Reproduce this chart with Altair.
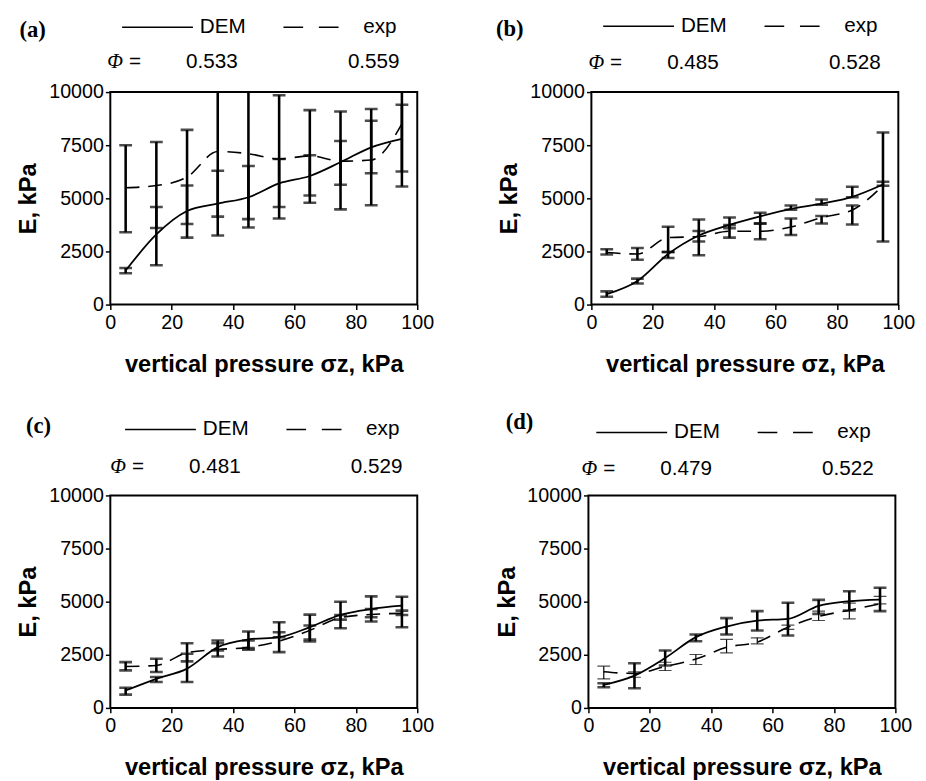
import altair as alt
import pandas as pd

# ---------------- data ----------------
x_vals = [5, 15, 25, 35, 45, 55, 65, 75, 85, 95]
x_ticks = [0, 20, 40, 60, 80, 100]
y_ticks = [0, 2500, 5000, 7500, 10000]
panel_labels = ["(a)", "(b)", "(c)", "(d)"]
phi_dem = ["0.533", "0.485", "0.481", "0.479"]
phi_exp = ["0.559", "0.528", "0.529", "0.522"]
legend_names = ["DEM", "exp"]
phi_symbol = "Φ"
phi_eq = "="
x_title = "vertical pressure σz, kPa"
y_title = "E, kPa"

# panel (a)
dem_a = [1600, 3300, 4400, 4750, 5050, 5700, 6050, 6700, 7400, 7800]
exp_a = [5500, 5600, 6000, 7200, 7100, 6850, 7000, 6750, 6800, 8500]
dem_lo_a = [1470, 3600, 3790, 4140, 4020, 4590, 5130, 5640, 6180, 6260]
dem_hi_a = [1720, 4590, 5600, 6300, 6520, 6850, 7030, 7700, 8650, 9400]
exp_lo_a = [3400, 1850, 3150, 3250, 3630, 4050, 4790, 4480, 4670, 5560]
exp_hi_a = [7500, 7650, 8220, 10500, 10500, 9850, 9150, 9090, 9200, 10500]

# panel (b)
dem_b = [490, 1110, 2380, 3250, 3750, 4150, 4500, 4750, 5070, 5650]
exp_b = [2450, 2380, 3150, 3200, 3450, 3450, 3650, 4100, 4450, 5600]
dem_lo_b = [370, 990, 2190, 2970, 3590, 3830, 4465, 4696, 5053, 5592]
dem_hi_b = [620, 1220, 2470, 4000, 4100, 4325, 4665, 4943, 5546, 5777]
exp_lo_b = [2360, 2110, 2470, 2320, 3150, 3073, 3274, 3815, 3770, 2967]
exp_hi_b = [2600, 2660, 3660, 3460, 3740, 3800, 4048, 4172, 4665, 8095]

# panel (c)
dem_c = [820, 1370, 1850, 2860, 3220, 3330, 3800, 4380, 4655, 4810]
exp_c = [1950, 2000, 2600, 2750, 2850, 3150, 3650, 4250, 4400, 4450]
dem_lo_c = [625, 1219, 1219, 2422, 2813, 2625, 3125, 3750, 4063, 4375]
dem_hi_c = [953, 1453, 2547, 3172, 3594, 4031, 4390, 5000, 5250, 5234]
exp_lo_c = [1766, 1688, 2190, 2703, 2734, 3328, 3219, 4156, 4266, 3797]
exp_hi_c = [2156, 2312, 3047, 3047, 3172, 3563, 3875, 4375, 4656, 4578]

# panel (d)
dem_d = [1080, 1520, 2350, 3330, 3830, 4110, 4190, 4800, 5020, 5100]
exp_d = [1700, 1620, 1950, 2300, 2850, 3100, 3800, 4300, 4600, 4900]
dem_lo_d = [975, 928, 1997, 3142, 3457, 3646, 3410, 4427, 4588, 4555]
dem_hi_d = [1160, 2104, 2704, 3457, 4225, 4555, 4946, 5086, 5495, 5652]
exp_lo_d = [1366, 1444, 1762, 2044, 2591, 3015, 3700, 4113, 4192, 4899]
exp_hi_d = [1964, 1700, 2150, 2515, 3222, 3297, 3900, 4553, 4930, 5247]

# ---------------- layout ----------------
W, H = 312, 216
FONT = "Liberation Sans"
SERIF = "Liberation Serif"


def one_row(val):
    return pd.DataFrame({"t": [val]})


def panel(i, dem, exp, dem_lo, dem_hi, exp_lo, exp_hi, exp_w, lay):
    df = pd.DataFrame({"x": x_vals, "dem": dem, "exp": exp,
                       "dem_lo": dem_lo, "dem_hi": dem_hi,
                       "exp_lo": exp_lo, "exp_hi": exp_hi})
    xs = alt.Scale(domain=[0, 100], nice=False, zero=False)
    ys = alt.Scale(domain=[0, 10000], nice=False)
    xaxis = alt.Axis(values=x_ticks, title=x_title, titlePadding=21,
                     labelFlush=False, labelPadding=3)
    yaxis = alt.Axis(values=y_ticks, title=y_title, titlePadding=8,
                     labelFlush=False, labelPadding=2, format="d")

    def X():
        return alt.X("x:Q", scale=xs, axis=xaxis)

    def Y(f):
        return alt.Y(f + ":Q", scale=ys, axis=yaxis)

    base = alt.Chart(df)
    layers = []

    def bars(lo, hi, w):
        out = [base.mark_rule(color="black", strokeWidth=w, clip=True)
               .encode(x=X(), y=Y(lo), y2=alt.Y2(hi + ":Q"))]
        for f in (lo, hi):
            out.append(base.mark_tick(color="black", orient="horizontal",
                                      size=13, thickness=w, clip=True)
                       .encode(x=X(), y=Y(f)))
        return out

    layers.append(base.mark_line(color="black", strokeWidth=1.8,
                                 interpolate="monotone")
                  .encode(x=X(), y=Y("dem")))
    layers.append(base.mark_line(color="black", strokeWidth=1.6,
                                 strokeDash=[14, 9], interpolate="monotone")
                  .encode(x=X(), y=Y("exp")))
    layers += bars("exp_lo", "exp_hi", exp_w)
    layers += bars("dem_lo", "dem_hi", 2.6)

    dx = lay["dx"]
    ly = lay["legend_y"]
    py = lay["phi_y"]
    # panel label
    layers.append(alt.Chart(one_row(panel_labels[i])).mark_text(
        font=SERIF, fontSize=23, fontWeight="bold", align="center",
        baseline="middle", color="black")
        .encode(text="t:N", x=alt.value(lay["label_x"]), y=alt.value(lay["label_y"])))
    # legend samples
    layers.append(alt.Chart(one_row(0)).mark_rule(color="black", strokeWidth=1.5)
                  .encode(x=alt.value(12 + dx), x2=alt.value(84 + dx), y=alt.value(ly)))
    layers.append(alt.Chart(one_row(0)).mark_rule(color="black", strokeWidth=1.5,
                                                   strokeDash=[20, 16])
                  .encode(x=alt.value(176 + dx), x2=alt.value(232 + dx), y=alt.value(ly)))
    layers.append(alt.Chart(one_row(legend_names[0])).mark_text(
        font=FONT, fontSize=21, align="left", baseline="middle", color="black")
        .encode(text="t:N", x=alt.value(91 + dx), y=alt.value(ly)))
    layers.append(alt.Chart(one_row(legend_names[1])).mark_text(
        font=FONT, fontSize=21, align="left", baseline="middle", color="black")
        .encode(text="t:N", x=alt.value(257 + dx), y=alt.value(ly)))
    # phi row
    layers.append(alt.Chart(one_row(phi_symbol)).mark_text(
        font=SERIF, fontSize=21, fontStyle="italic", align="left",
        baseline="middle", color="black")
        .encode(text="t:N", x=alt.value(-3 + dx), y=alt.value(py)))
    layers.append(alt.Chart(one_row(phi_eq)).mark_text(
        font=FONT, fontSize=21, align="left", baseline="middle", color="black")
        .encode(text="t:N", x=alt.value(19 + dx), y=alt.value(py)))
    layers.append(alt.Chart(one_row(phi_dem[i])).mark_text(
        font=FONT, fontSize=21, align="left", baseline="middle", color="black")
        .encode(text="t:N", x=alt.value(77 + dx), y=alt.value(py)))
    layers.append(alt.Chart(one_row(phi_exp[i])).mark_text(
        font=FONT, fontSize=21, align="right", baseline="middle", color="black")
        .encode(text="t:N", x=alt.value(294 + dx), y=alt.value(py)))

    return alt.layer(*layers).properties(width=W, height=H)


lay_a = {"dx": 0, "legend_y": -66, "phi_y": -30, "label_x": -79, "label_y": -63}
lay_b = {"dx": 0, "legend_y": -67, "phi_y": -29, "label_x": -83, "label_y": -64}
lay_c = {"dx": 3, "legend_y": -67, "phi_y": -29, "label_x": -73, "label_y": -70}
lay_d = {"dx": -4, "legend_y": -64, "phi_y": -27, "label_x": -70, "label_y": -75}

pa = panel(0, dem_a, exp_a, dem_lo_a, dem_hi_a, exp_lo_a, exp_hi_a, 2.6, lay_a)
pb = panel(1, dem_b, exp_b, dem_lo_b, dem_hi_b, exp_lo_b, exp_hi_b, 2.6, lay_b)
pc = panel(2, dem_c, exp_c, dem_lo_c, dem_hi_c, exp_lo_c, exp_hi_c, 2.6, lay_c)
pd_ = panel(3, dem_d, exp_d, dem_lo_d, dem_hi_d, exp_lo_d, exp_hi_d, 1.2, lay_d)

top = alt.hconcat(pa, pb, spacing=60)
bottom = alt.hconcat(pc, pd_, spacing=60)

chart = (
    alt.vconcat(top, bottom, spacing=33)
    .properties(padding={"left": 8, "top": 0, "right": 2, "bottom": 5},
                background="white")
    .configure_view(stroke="black", strokeWidth=2)
    .configure_axis(domain=False, grid=False, ticks=True, tickColor="black",
                    tickSize=5, tickWidth=1.5,
                    labelFont=FONT, labelFontSize=20, labelColor="black",
                    titleFont=FONT, titleFontSize=24, titleFontWeight="bold",
                    titleColor="black")
)

chart.save("out.html", embed_options={"renderer": "svg", "actions": False})
